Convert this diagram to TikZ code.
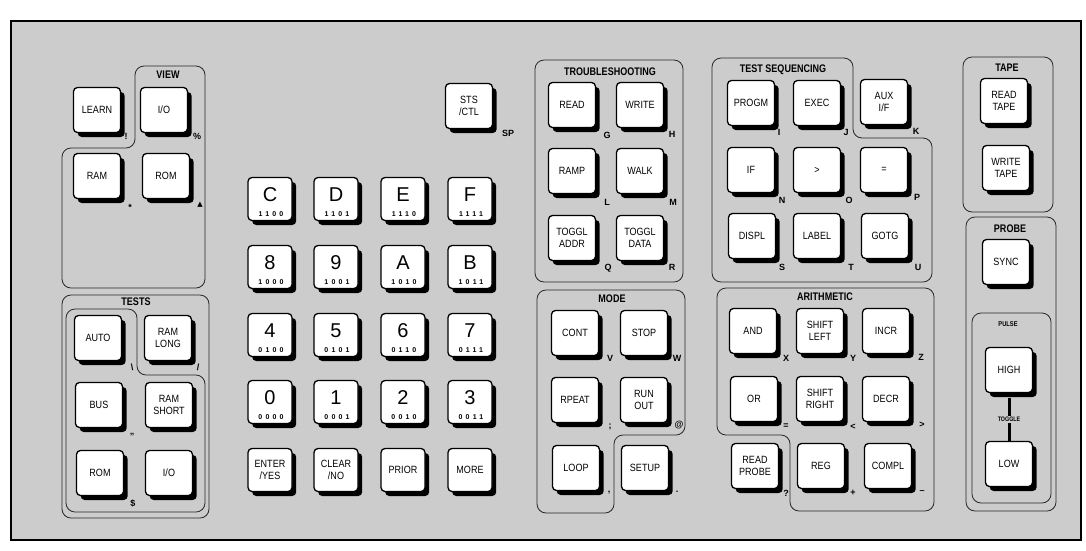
\documentclass[tikz,border=0pt]{standalone}
\usepackage{fontspec}
\setmainfont{Liberation Sans}
\newfontfamily\keyfam[FakeStretch=0.86]{Liberation Sans}
\newfontfamily\titlefam[FakeStretch=0.82]{Liberation Sans Bold}
\newfontfamily\codefam[LetterSpace=45]{Liberation Sans Bold}
\newfontfamily\symfam{DejaVu Sans}
\usetikzlibrary{shadows}
\definecolor{panel}{gray}{0.80}
\begin{document}
\begin{tikzpicture}[x=1pt,y=-1pt,
  key/.style={draw=black, line width=1.3pt, fill=white, rounded corners=4pt,
    minimum width=47pt, minimum height=45pt, inner sep=0pt, align=center,
    font=\keyfam\fontsize{10.5}{12}\selectfont,
    drop shadow={shadow xshift=4.2pt, shadow yshift=-4.5pt, fill=black, opacity=1}},
  hexkey/.style={key, minimum width=44pt, minimum height=43pt},
  grp/.style={draw=black!85, line width=0.8pt, rounded corners=9pt},
  title/.style={font=\titlefam\fontsize{11}{12}\selectfont, inner sep=0pt},
  lab/.style={font=\bfseries\fontsize{9}{10}\selectfont, inner sep=0pt},
  hexlet/.style={font=\fontsize{20}{20}\selectfont, inner sep=0pt},
  code/.style={font=\codefam\fontsize{7}{7}\selectfont, inner sep=0pt},
]
\useasboundingbox (0,0) rectangle (1086,550);
\draw[line width=2pt, fill=panel] (11,21) rectangle (1081,540);

% ---------- group outlines ----------
\draw[grp] (170,66) -- (205,66) -- (205,288) -- (62,288) -- (62,148) -- (135,148) -- (135,66) -- cycle;
\draw[grp] (62,295) rectangle (209,518);
\draw[grp] (100,309) -- (137,309) -- (137,375) -- (205,375) -- (205,512) -- (66,512) -- (66,309) -- cycle;
\draw[grp] (535,60) rectangle (683,282);
\draw[grp] (611,290) -- (685,290) -- (685,435) -- (614,435) -- (614,513) -- (537,513) -- (537,290) -- cycle;
\draw[grp] (782,58) -- (853,58) -- (853,138) -- (932,138) -- (932,282) -- (712,282) -- (712,58) -- cycle;
\draw[grp] (825,288) -- (934,288) -- (934,511) -- (790,511) -- (790,435) -- (717,435) -- (717,288) -- cycle;
\draw[grp] (963,57) rectangle (1053,212);
\draw[grp] (966,217) rectangle (1056,511);
\draw[grp] (972,313) rectangle (1051,503);

% ---------- titles ----------
\node[title] (tview) at (168,75) {VIEW};
\node[title] (ttests) at (136,302) {TESTS};
\node[title] (ttrb) at (610,72) {TROUBLESHOOTING};
\node[title] (tmode) at (612,299) {MODE};
\node[title] (tseq) at (783,70) {TEST SEQUENCING};
\node[title] (tarith) at (825,297) {ARITHMETIC};
\node[title] (ttape) at (1007,68) {TAPE};
\node[title] (tprobe) at (1010,229) {PROBE};
\node[title, font=\titlefam\fontsize{7}{7}\selectfont] (tpulse) at (1008,324) {PULSE};

% ---------- left keys ----------
\node[key] (learn) at (97,110) {LEARN};
\node[key] (vio) at (164,110) {I/O};
\node[key] (vram) at (97,176) {RAM};
\node[key] (vrom) at (166,176) {ROM};
\node[lab] (llearn) at (126,136) {!};
\node[lab] (lvio) at (197,136) {\%};
\node[lab] (lvram) at (130,207) {*};
\node[lab, font=\symfam\fontsize{7}{8}\selectfont] (lvrom) at (200,205) {▲};

\node[key] (auto) at (98,338) {AUTO};
\node[key] (rlong) at (168,338) {RAM\\LONG};
\node[key] (bus) at (99,405) {BUS};
\node[key] (rshort) at (169,405) {RAM\\SHORT};
\node[key] (trom) at (100,473) {ROM};
\node[key] (tio) at (169,473) {I/O};
\node[lab] (lauto) at (132,367) {\textbackslash};
\node[lab] (lrlong) at (198,367) {/};
\node[lab] (lbus) at (132,436) {"};
\node[lab] (ltrom) at (133,503) {\$};

\node[key] (sts) at (469,106) {STS\\/CTL};
\node[lab] (lsts) at (508,133) {SP};

% ---------- hex keypad ----------
\newcommand{\hexkey}[5]{%
  \node[hexkey] (#1) at (#2,#3) {};
  \node[hexlet] (#1l) at ([shift={(0,-4)}]#1.center) {#4};
  \node[code] (#1c) at ([shift={(1,15)}]#1.center) {#5};}
\hexkey{kC}{270}{199}{C}{1100}
\hexkey{kD}{336}{199}{D}{1101}
\hexkey{kE}{403}{199}{E}{1110}
\hexkey{kF}{470}{199}{F}{1111}
\hexkey{k8}{270}{267}{8}{1000}
\hexkey{k9}{336}{267}{9}{1001}
\hexkey{kA}{403}{267}{A}{1010}
\hexkey{kB}{470}{267}{B}{1011}
\hexkey{k4}{270}{335}{4}{0100}
\hexkey{k5}{336}{335}{5}{0101}
\hexkey{k6}{403}{335}{6}{0110}
\hexkey{k7}{470}{335}{7}{0111}
\hexkey{k0}{270}{402}{0}{0000}
\hexkey{k1}{336}{402}{1}{0001}
\hexkey{k2}{403}{402}{2}{0010}
\hexkey{k3}{470}{402}{3}{0011}
\node[hexkey] (enter) at (270,470) {ENTER\\/YES};
\node[hexkey] (clear) at (336,470) {CLEAR\\/NO};
\node[hexkey] (prior) at (403,470) {PRIOR};
\node[hexkey] (more) at (470,470) {MORE};

% ---------- troubleshooting ----------
\node[key] (read) at (572,105) {READ};
\node[key] (write) at (640,105) {WRITE};
\node[key] (ramp) at (572,171) {RAMP};
\node[key] (walk) at (640,171) {WALK};
\node[key] (taddr) at (572,238) {TOGGL\\ADDR};
\node[key] (tdata) at (640,238) {TOGGL\\DATA};
\node[lab] (lread) at (607,135) {G};
\node[lab] (lwrite) at (672,134) {H};
\node[lab] (lramp) at (607,202) {L};
\node[lab] (lwalk) at (673,202) {M};
\node[lab] (ltaddr) at (608,268) {Q};
\node[lab] (ltdata) at (672,267) {R};

% ---------- mode ----------
\node[key] (cont) at (575,333) {CONT};
\node[key] (stop) at (644,333) {STOP};
\node[key] (rpeat) at (575,400) {RPEAT};
\node[key] (runout) at (644,400) {RUN\\OUT};
\node[key] (loop) at (576,468) {LOOP};
\node[key] (setup) at (645,468) {SETUP};
\node[lab] (lcont) at (610,358) {V};
\node[lab] (lstop) at (677,358) {W};
\node[lab] (lrpeat) at (610,427) {;};
\node[lab] (lrunout) at (679,425) {@};
\node[lab] (lloop) at (609,493) {,};
\node[lab] (lsetup) at (677,492) {.};

% ---------- test sequencing ----------
\node[key] (progm) at (751,103) {PROGM};
\node[key] (exec) at (817,103) {EXEC};
\node[key] (aux) at (884,102) {AUX\\I/F};
\node[key] (kif) at (751,170) {IF};
\node[key] (kgt) at (817,170) {>};
\node[key] (keq) at (884,170) {=};
\node[key] (displ) at (752,236) {DISPL};
\node[key] (label) at (817,236) {LABEL};
\node[key] (gotg) at (885,236) {GOTG};
\node[lab] (lprogm) at (779,132) {I};
\node[lab] (lexec) at (846,132) {J};
\node[lab] (laux) at (916,131) {K};
\node[lab] (lkif) at (782,200) {N};
\node[lab] (lkgt) at (849,200) {O};
\node[lab] (lkeq) at (917,197) {P};
\node[lab] (ldispl) at (782,267) {S};
\node[lab] (llabel) at (851,267) {T};
\node[lab] (lgotg) at (918,267) {U};

% ---------- arithmetic ----------
\node[key] (kand) at (753,331) {AND};
\node[key] (shl) at (820,331) {SHIFT\\LEFT};
\node[key] (incr) at (886,331) {INCR};
\node[key] (kor) at (754,399) {OR};
\node[key] (shr) at (820,399) {SHIFT\\RIGHT};
\node[key] (decr) at (886,399) {DECR};
\node[key] (rprobe) at (755,466) {READ\\PROBE};
\node[key] (reg) at (821,466) {REG};
\node[key] (compl) at (888,466) {COMPL};
\node[lab] (lkand) at (786,358) {X};
\node[lab] (lshl) at (853,358) {Y};
\node[lab] (lincr) at (921,357) {Z};
\node[lab] (lkor) at (786,426) {=};
\node[lab] (lshr) at (853,427) {<};
\node[lab] (ldecr) at (922,425) {>};
\node[lab] (lrprobe) at (786,493) {?};
\node[lab] (lreg) at (853,493) {+};
\node[lab] (lcompl) at (922,492) {–};

% ---------- tape / probe ----------
\node[key] (rtape) at (1004,101) {READ\\TAPE};
\node[key] (wtape) at (1006,168) {WRITE\\TAPE};
\node[key] (sync) at (1006,262) {SYNC};
\node[key] (high) at (1009,370) {HIGH};
\node[key] (low) at (1009,464) {LOW};
\draw[line width=3pt] ([yshift=-4.5pt]high.south) -- (low.north)
  node[midway, fill=panel, inner sep=1pt, font=\titlefam\fontsize{6.5}{7}\selectfont] (tog) {TOGGLE};
\end{tikzpicture}
\end{document}
